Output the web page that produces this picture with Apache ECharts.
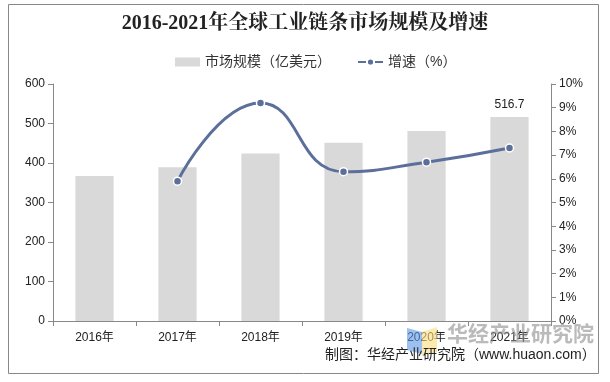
<!DOCTYPE html>
<html><head><meta charset="utf-8">
<script src="https://cdn.jsdelivr.net/npm/echarts@6/dist/echarts.min.js"></script>
<style>html,body{margin:0;padding:0;background:#fff}#c{width:610px;height:382px}</style>
</head><body><div id="c"></div>
<script>
const categories = ['2016年','2017年','2018年','2019年','2020年','2021年'];
const marketSize = [367, 389, 424, 451, 481, 516.7];
const growth = [null, 5.9, 9.2, 6.3, 6.7, 7.3];
const leftTicks = [0,100,200,300,400,500,600];
const rightTicks = [0,1,2,3,4,5,6,7,8,9,10];

const chart = echarts.init(document.getElementById('c'));
const font = 'Arial, "Liberation Sans", "Noto Sans CJK SC", sans-serif';
chart.setOption({
  animation: false,
  textStyle: {fontFamily: font},
  title: {
    text: '2016-2021年全球工业链条市场规模及增速',
    left: 'center', top: 9,
    textStyle: {fontFamily: '"Liberation Serif","Noto Serif CJK SC","Noto Sans CJK SC",serif', fontSize: 20, fontWeight: 'bold', color: '#222'}
  },
  legend: {
    top: 50, left: 170, itemGap: 26, itemWidth: 25, itemHeight: 9,
    textStyle: {fontSize: 14, color: '#333', fontFamily: font},
    data: [{name: '市场规模（亿美元）', icon: 'rect'}, {name: '增速（%）'}]
  },
  grid: {left: 53, right: 59, top: 84, bottom: 61},
  xAxis: {
    type: 'category', data: categories,
    axisLine: {lineStyle: {color: '#888'}},
    axisTick: {show: true, length: 5, lineStyle: {color: '#888'}},
    axisLabel: {color: '#222', fontSize: 12, margin: 11}
  },
  yAxis: [{
    type: 'value', min: 0, max: 600, interval: 100,
    axisLine: {show: true, lineStyle: {color: '#888'}},
    axisTick: {show: true, length: 5, lineStyle: {color: '#888'}},
    splitLine: {show: false},
    axisLabel: {color: '#222', fontSize: 12, margin: 8}
  }, {
    type: 'value', min: 0, max: 10, interval: 1,
    axisLine: {show: true, lineStyle: {color: '#888'}},
    axisTick: {show: true, length: 5, lineStyle: {color: '#888'}},
    splitLine: {show: false},
    axisLabel: {color: '#222', fontSize: 12, margin: 8, formatter: '{value}%'}
  }],
  series: [{
    name: '市场规模（亿美元）', type: 'bar', data: marketSize, barWidth: '46%',
    itemStyle: {color: '#d9d9d9'},
    label: {show: true, position: 'top', color: '#222', fontSize: 12, distance: 6,
      formatter: p => p.dataIndex === marketSize.length - 1 ? p.value : ''}
  }, {
    name: '增速（%）', type: 'line', yAxisIndex: 1, data: growth, smooth: 0.5,
    symbol: 'circle', symbolSize: 8, showSymbol: true,
    lineStyle: {color: '#5c6f9a', width: 3},
    itemStyle: {color: '#5c6f9a', borderColor: '#fff', borderWidth: 1.5}
  }],
  graphic: [
    {type: 'rect', shape: {x: 8.5, y: 4.5, width: 590, height: 369}, style: {fill: 'none', stroke: '#888', lineWidth: 1}, silent: true},
    {type: 'polygon', shape: {points: [[407,328],[422,332],[422,354],[407,350]]}, style: {fill: 'rgba(90,150,230,0.6)'}, z: 10},
    {type: 'polygon', shape: {points: [[422,332],[437,327],[437,352],[422,356]]}, style: {fill: 'rgba(250,220,120,0.6)'}, z: 10},
    {type: 'text', left: 447, top: 323, style: {text: '华经产业研究院', fontSize: 21, fontWeight: 'bold', fill: 'rgba(140,140,140,0.6)', fontFamily: '"Noto Sans CJK SC",sans-serif'}, z: 10},
    {type: 'text', left: 325, top: 348, style: {text: '制图：华经产业研究院（www.huaon.com）', fontSize: 14, fill: '#222', fontFamily: font}, z: 11}
  ]
});
</script></body></html>
